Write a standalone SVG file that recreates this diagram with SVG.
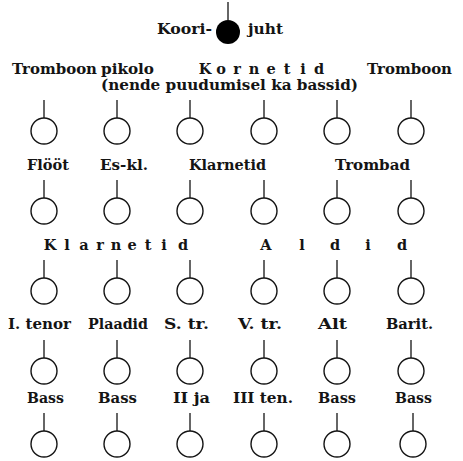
<svg xmlns="http://www.w3.org/2000/svg" xmlns:xlink="http://www.w3.org/1999/xlink" width="463" height="461" viewBox="0 0 463 461">
<style>
  .bg { fill: #ffffff; }
  .lbl { font-family: "DejaVu Serif", "Liberation Serif", serif; font-weight: bold; font-size: 14.5px; fill: #141414; }
  .sp { text-anchor: middle; }
  .stem { stroke: #141414; stroke-width: 1.3; fill: none; }
  .seat { stroke: #141414; stroke-width: 1.4; fill: #ffffff; }
  .cond { fill: #000000; }
</style>
<defs>
  <g id="seat">
    <line class="stem" x1="0" y1="-31" x2="0" y2="-13"/>
    <circle class="seat" cx="0" cy="0" r="13"/>
  </g>
</defs>
<rect class="bg" x="0" y="0" width="463" height="461"/>

<g id="conductor">
  <line class="stem" x1="228" y1="2" x2="228" y2="20"/>
  <circle class="cond" cx="228" cy="32" r="12"/>
  <text class="lbl" x="157" y="34" textLength="55" lengthAdjust="spacingAndGlyphs">Koori-</text>
  <text class="lbl" x="248" y="34" textLength="35" lengthAdjust="spacingAndGlyphs">juht</text>
</g>

<g id="connectors"></g>

<g id="seats">
  <g id="r1c1" transform="translate(44,131)"><use href="#seat" xlink:href="#seat"/></g>
  <g id="r1c2" transform="translate(117,131)"><use href="#seat" xlink:href="#seat"/></g>
  <g id="r1c3" transform="translate(190,131)"><use href="#seat" xlink:href="#seat"/></g>
  <g id="r1c4" transform="translate(264,131)"><use href="#seat" xlink:href="#seat"/></g>
  <g id="r1c5" transform="translate(337,131)"><use href="#seat" xlink:href="#seat"/></g>
  <g id="r1c6" transform="translate(411,131)"><use href="#seat" xlink:href="#seat"/></g>

  <g id="r2c1" transform="translate(44,211)"><use href="#seat" xlink:href="#seat"/></g>
  <g id="r2c2" transform="translate(117,211)"><use href="#seat" xlink:href="#seat"/></g>
  <g id="r2c3" transform="translate(190,211)"><use href="#seat" xlink:href="#seat"/></g>
  <g id="r2c4" transform="translate(264,211)"><use href="#seat" xlink:href="#seat"/></g>
  <g id="r2c5" transform="translate(337,211)"><use href="#seat" xlink:href="#seat"/></g>
  <g id="r2c6" transform="translate(411,211)"><use href="#seat" xlink:href="#seat"/></g>

  <g id="r3c1" transform="translate(44,291)"><use href="#seat" xlink:href="#seat"/></g>
  <g id="r3c2" transform="translate(117,291)"><use href="#seat" xlink:href="#seat"/></g>
  <g id="r3c3" transform="translate(190,291)"><use href="#seat" xlink:href="#seat"/></g>
  <g id="r3c4" transform="translate(264,291)"><use href="#seat" xlink:href="#seat"/></g>
  <g id="r3c5" transform="translate(337,291)"><use href="#seat" xlink:href="#seat"/></g>
  <g id="r3c6" transform="translate(411,291)"><use href="#seat" xlink:href="#seat"/></g>

  <g id="r4c1" transform="translate(44,371)"><use href="#seat" xlink:href="#seat"/></g>
  <g id="r4c2" transform="translate(117,371)"><use href="#seat" xlink:href="#seat"/></g>
  <g id="r4c3" transform="translate(190,371)"><use href="#seat" xlink:href="#seat"/></g>
  <g id="r4c4" transform="translate(264,371)"><use href="#seat" xlink:href="#seat"/></g>
  <g id="r4c5" transform="translate(337,371)"><use href="#seat" xlink:href="#seat"/></g>
  <g id="r4c6" transform="translate(411,371)"><use href="#seat" xlink:href="#seat"/></g>

  <g id="r5c1" transform="translate(44,444)"><use href="#seat" xlink:href="#seat"/></g>
  <g id="r5c2" transform="translate(117,444)"><use href="#seat" xlink:href="#seat"/></g>
  <g id="r5c3" transform="translate(190,444)"><use href="#seat" xlink:href="#seat"/></g>
  <g id="r5c4" transform="translate(264,444)"><use href="#seat" xlink:href="#seat"/></g>
  <g id="r5c5" transform="translate(337,444)"><use href="#seat" xlink:href="#seat"/></g>
  <g id="r5c6" transform="translate(413,444)"><use href="#seat" xlink:href="#seat"/></g>
</g>

<g id="labels">
  <text class="lbl" x="12" y="74" textLength="85" lengthAdjust="spacingAndGlyphs">Tromboon</text>
  <text class="lbl" x="101" y="74" textLength="53" lengthAdjust="spacingAndGlyphs">pikolo</text>
  <text class="lbl sp" x="205 221 237 254 271 287 303 319" y="74">Kornetid</text>
  <text class="lbl" x="367" y="74" textLength="85" lengthAdjust="spacingAndGlyphs">Tromboon</text>
  <text class="lbl" x="101" y="90" textLength="257" lengthAdjust="spacingAndGlyphs">(nende puudumisel ka bassid)</text>

  <text class="lbl" x="27" y="170" textLength="42" lengthAdjust="spacingAndGlyphs">Flööt</text>
  <text class="lbl" x="100" y="170" textLength="48" lengthAdjust="spacingAndGlyphs">Es-kl.</text>
  <text class="lbl" x="189" y="170" textLength="77" lengthAdjust="spacingAndGlyphs">Klarnetid</text>
  <text class="lbl" x="335" y="170" textLength="75" lengthAdjust="spacingAndGlyphs">Trombad</text>

  <text class="lbl sp" x="50 67 84 100 116 132 148 164 183" y="250">Klarnetid</text>
  <text class="lbl sp" x="266 302 335 368 402" y="250">Aldid</text>

  <text class="lbl" x="8" y="329" textLength="63" lengthAdjust="spacingAndGlyphs">I. tenor</text>
  <text class="lbl" x="88" y="329" textLength="60" lengthAdjust="spacingAndGlyphs">Plaadid</text>
  <text class="lbl" x="164" y="329" textLength="45" lengthAdjust="spacingAndGlyphs">S. tr.</text>
  <text class="lbl" x="238" y="329" textLength="44" lengthAdjust="spacingAndGlyphs">V. tr.</text>
  <text class="lbl" x="318" y="329" textLength="29" lengthAdjust="spacingAndGlyphs">Alt</text>
  <text class="lbl" x="386" y="329" textLength="47" lengthAdjust="spacingAndGlyphs">Barit.</text>

  <text class="lbl" x="27" y="403" textLength="37" lengthAdjust="spacingAndGlyphs">Bass</text>
  <text class="lbl" x="98" y="403" textLength="39" lengthAdjust="spacingAndGlyphs">Bass</text>
  <text class="lbl" x="173" y="403" textLength="37" lengthAdjust="spacingAndGlyphs">II ja</text>
  <text class="lbl" x="233" y="403" textLength="60" lengthAdjust="spacingAndGlyphs">III ten.</text>
  <text class="lbl" x="318" y="403" textLength="38" lengthAdjust="spacingAndGlyphs">Bass</text>
  <text class="lbl" x="395" y="403" textLength="37" lengthAdjust="spacingAndGlyphs">Bass</text>
</g>
</svg>
